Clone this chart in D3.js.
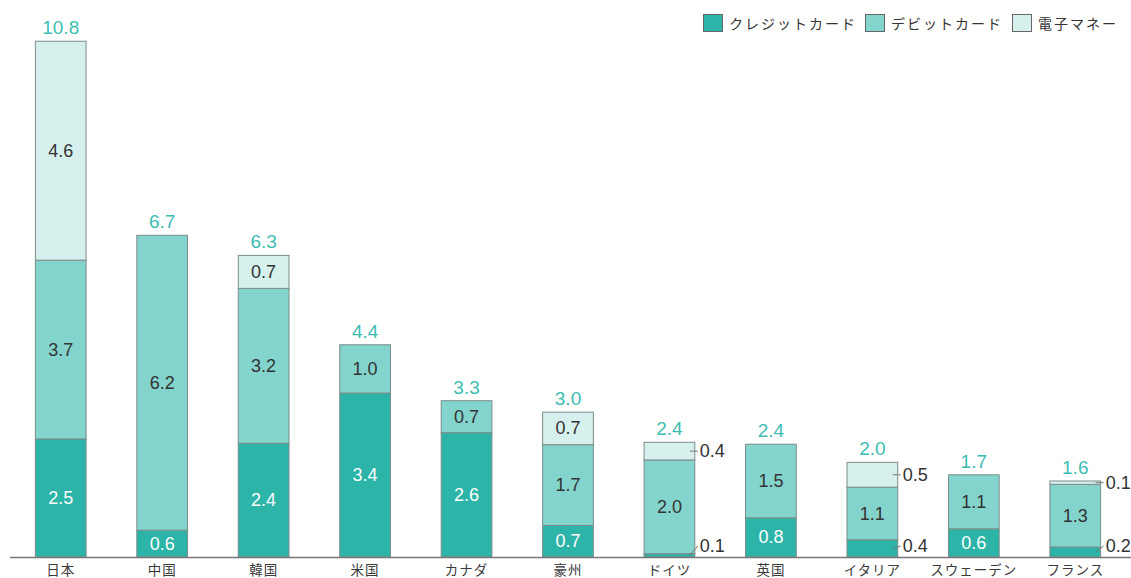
<!DOCTYPE html>
<html><head><meta charset="utf-8">
<script src="https://cdn.jsdelivr.net/npm/d3@7"></script>
<style>body{margin:0;background:#fff}svg{display:block}</style>
</head><body>
<svg id="c" width="1131" height="578"></svg>
<script>
const categories = ["日本","中国","韓国","米国","カナダ","豪州","ドイツ","英国","イタリア","スウェーデン","フランス"];
const seriesNames = ["クレジットカード","デビットカード","電子マネー"];
const credit = [2.47,0.56,2.38,3.43,2.60,0.66,0.07,0.82,0.36,0.59,0.21];
const debit  = [3.74,6.17,3.24,1.01,0.67,1.69,1.96,1.54,1.10,1.13,1.31];
const emoney = [4.58,0.00,0.69,0.00,0.00,0.68,0.37,0.00,0.52,0.00,0.07];
const colors = ["#2cb4a9","#83d4cc","#d6f0ee"];
const textColors = ["#ffffff","#333333","#333333"];

const base = 557;
const svg = d3.select("#c");
const x = d3.scaleBand().domain(categories).range([10,1126]).paddingInner(0.5).paddingOuter(0.25);
const y = d3.scaleLinear().domain([0,11]).range([base, base - 11*47.8]);
const fmt = v => (Math.round(v*10)/10).toFixed(1);

const rows = categories.map((c,i)=>({cat:c, "0":credit[i], "1":debit[i], "2":emoney[i]}));
const stacked = d3.stack().keys(["0","1","2"])(rows);
const numFont = "'Liberation Sans', Arial, sans-serif";
const jpFont = "'Noto Sans CJK JP', sans-serif";

// bars
stacked.forEach((layer,k)=>{
  const g = svg.append("g");
  layer.forEach((d,i)=>{
    const v = d[1]-d[0];
    if (v <= 0) return;
    const x0 = x(categories[i]), bw = x.bandwidth();
    g.append("rect").attr("x",x0).attr("y",y(d[1])).attr("width",bw).attr("height",y(d[0])-y(d[1]))
      .attr("fill",colors[k]).attr("stroke","#7d8c8a").attr("stroke-width",1);
  });
});
// labels
stacked.forEach((layer,k)=>{
  layer.forEach((d,i)=>{
    const v = d[1]-d[0];
    if (v <= 0) return;
    const x0 = x(categories[i]), bw = x.bandwidth();
    const cy = (y(d[0])+y(d[1]))/2;
    if (v >= 0.55) {
      svg.append("text").attr("x",x0+bw/2).attr("y",cy).attr("text-anchor","middle")
        .attr("dominant-baseline","central").attr("font-family",numFont).attr("font-size",18)
        .attr("fill",textColors[k]).text(fmt(v));
    } else {
      const ly = Math.min(cy, base-11);
      svg.append("line").attr("x1",x0+bw-5).attr("y1",cy).attr("x2",x0+bw+3).attr("y2",ly)
        .attr("stroke","#777").attr("stroke-width",1);
      svg.append("text").attr("x",x0+bw+5).attr("y",ly).attr("dominant-baseline","central")
        .attr("font-family",numFont).attr("font-size",18).attr("fill","#333").text(fmt(v));
    }
  });
});
// totals
const topLayer = stacked[2];
topLayer.forEach((d,i)=>{
  svg.append("text").attr("x",x(categories[i])+x.bandwidth()/2).attr("y",y(d[1])-7)
    .attr("text-anchor","middle").attr("font-family",numFont).attr("font-size",19)
    .attr("fill","#3dbdb2").text(fmt(d[1]));
});
// axis
const ax = svg.append("g").attr("transform",`translate(0,${base})`)
  .call(d3.axisBottom(x).tickSize(0).tickPadding(8));
ax.select(".domain").attr("d",`M10,0.5H1131`).attr("stroke","#777").attr("stroke-width",1.5);
ax.selectAll("text").attr("font-family",jpFont).attr("font-size",13.5).attr("fill","#3a3a3a")
  .attr("letter-spacing","1px");

// legend
const lg = svg.append("g");
const lx = [703,865,1012];
seriesNames.forEach((n,k)=>{
  lg.append("rect").attr("x",lx[k]+0.5).attr("y",14.5).attr("width",19).attr("height",17)
    .attr("fill",colors[k]).attr("stroke","#666").attr("stroke-width",1);
  lg.append("text").attr("x",lx[k]+26).attr("y",23).attr("dominant-baseline","central")
    .attr("font-family",jpFont).attr("font-size",14).attr("letter-spacing","2px")
    .attr("fill","#333").text(n);
});
</script>
</body></html>
